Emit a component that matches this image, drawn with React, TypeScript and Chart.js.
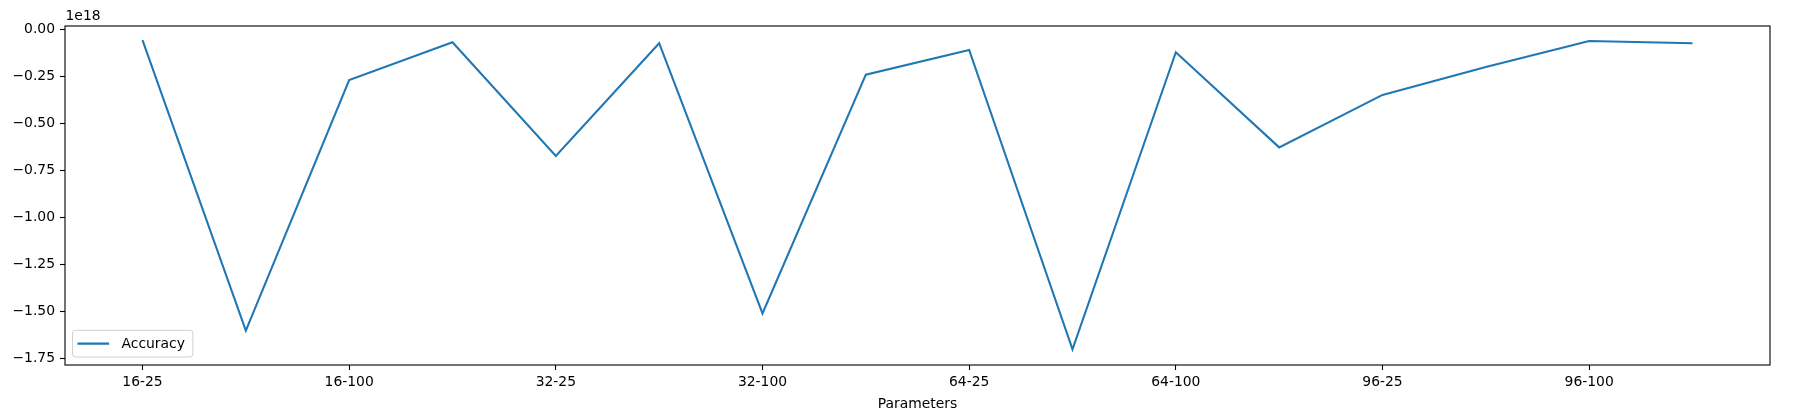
import React, { useEffect, useRef } from "react";
import { Chart, registerables } from "chart.js";

Chart.register(...registerables);

// Category labels (every other one is shown as a tick label)
const categories = [
  "16-25", "16-50", "16-100", "16-200",
  "32-25", "32-50", "32-100", "32-200",
  "64-25", "64-50", "64-100", "64-200",
  "96-25", "96-50", "96-100", "96-200",
];
// Accuracy values, in units of 1e18
const accuracy = [
  -0.058, -1.603, -0.27, -0.069,
  -0.674, -0.074, -1.511, -0.241,
  -0.11, -1.702, -0.122, -0.628,
  -0.349, -0.2, -0.062, -0.074,
];
const xTickIndices = [0, 2, 4, 6, 8, 10, 12, 14];
const yTicks = [0, -0.25, -0.5, -0.75, -1, -1.25, -1.5, -1.75];
const offsetLabel = "1e18";
const seriesLabel = "Accuracy";
const xTitle = "Parameters";

const FONT = '"DejaVu Sans", sans-serif';
const FS = 13.9;
const LINE_COLOR = "#1f77b4";

const fmtY = (v: number) => {
  const s = Math.abs(v).toFixed(2);
  return v < 0 ? "\u2212" + s : s;
};

const decorPlugin = {
  id: "decor",
  afterDatasetsDraw(chart: any) {
    const { ctx, chartArea: a } = chart;
    ctx.save();
    // axes frame
    ctx.strokeStyle = "#000";
    ctx.lineWidth = 1.1;
    ctx.strokeRect(a.left, a.top, a.right - a.left, a.bottom - a.top);

    // offset text
    ctx.fillStyle = "#000";
    ctx.font = `${FS}px ${FONT}`;
    ctx.textAlign = "left";
    ctx.textBaseline = "middle";
    ctx.fillText(offsetLabel, a.left + 0.5, a.top - 10);

    // legend (lower left)
    const label = chart.data.datasets[0].label as string;
    const tw = ctx.measureText(label).width;
    const bx = a.left + 7.5;
    const bh = 26.7;
    const by = a.bottom - 8 - bh;
    const lineX0 = bx + 5;
    const lineX1 = lineX0 + 31.6;
    const textX = lineX1 + 12.4;
    const bw = textX + tw + 8 - bx;
    const r = 3;
    ctx.beginPath();
    ctx.moveTo(bx + r, by);
    ctx.lineTo(bx + bw - r, by);
    ctx.arcTo(bx + bw, by, bx + bw, by + r, r);
    ctx.lineTo(bx + bw, by + bh - r);
    ctx.arcTo(bx + bw, by + bh, bx + bw - r, by + bh, r);
    ctx.lineTo(bx + r, by + bh);
    ctx.arcTo(bx, by + bh, bx, by + bh - r, r);
    ctx.lineTo(bx, by + r);
    ctx.arcTo(bx, by, bx + r, by, r);
    ctx.closePath();
    ctx.fillStyle = "rgba(255,255,255,0.8)";
    ctx.fill();
    ctx.strokeStyle = "#d0d0d0";
    ctx.lineWidth = 1;
    ctx.stroke();

    const cy = by + bh / 2;
    ctx.strokeStyle = LINE_COLOR;
    ctx.lineWidth = 2.08;
    ctx.beginPath();
    ctx.moveTo(lineX0, cy);
    ctx.lineTo(lineX1, cy);
    ctx.stroke();

    ctx.fillStyle = "#000";
    ctx.textBaseline = "middle";
    ctx.fillText(label, textX, cy + 1);
    ctx.restore();
  },
};

export default function App() {
  const ref = useRef<HTMLCanvasElement | null>(null);

  useEffect(() => {
    document.body.style.margin = "0";
    const canvas = ref.current;
    if (!canvas) return;
    const chart = new Chart(canvas, {
      type: "line",
      data: {
        datasets: [
          {
            label: seriesLabel,
            data: accuracy.map((v, i) => ({ x: i, y: v })),
            borderColor: LINE_COLOR,
            backgroundColor: LINE_COLOR,
            borderWidth: 2.08,
            pointRadius: 0,
            fill: false,
            tension: 0,
          },
        ],
      },
      options: {
        responsive: false,
        animation: false,
        layout: { padding: { top: 26, right: 28, left: 0, bottom: 0 } },
        plugins: {
          legend: { display: false },
          tooltip: { enabled: false },
        },
        scales: {
          x: {
            type: "linear",
            min: -0.75,
            max: 15.75,
            afterBuildTicks: (s: any) => {
              s.ticks = xTickIndices.map((v) => ({ value: v }));
            },
            afterFit: (s: any) => {
              s.height = 52;
            },
            grid: {
              drawOnChartArea: false,
              drawTicks: true,
              tickLength: 5,
              tickWidth: 1.1,
              tickColor: "#000",
            },
            border: { display: false },
            ticks: {
              autoSkip: false,
              maxRotation: 0,
              padding: 4,
              color: "#000",
              font: { family: FONT, size: FS },
              callback: (v: any) => categories[Math.round(Number(v))],
            },
            title: {
              display: true,
              text: xTitle,
              color: "#000",
              font: { family: FONT, size: FS },
              padding: { top: 0, bottom: 4 },
            },
          },
          y: {
            type: "linear",
            min: -1.7855,
            max: 0.0176,
            afterBuildTicks: (s: any) => {
              s.ticks = yTicks.map((v) => ({ value: v }));
            },
            afterFit: (s: any) => {
              s.width = 65;
            },
            grid: {
              drawOnChartArea: false,
              drawTicks: true,
              tickLength: 5,
              tickWidth: 1.1,
              tickColor: "#000",
            },
            border: { display: false },
            ticks: {
              autoSkip: false,
              padding: 5,
              color: "#000",
              font: { family: FONT, size: FS },
              callback: (v: any) => fmtY(Number(v)),
            },
          },
        },
      },
      plugins: [decorPlugin],
    } as any);
    return () => chart.destroy();
  }, []);

  return (
    <canvas
      ref={ref}
      width={1798}
      height={417}
      style={{ display: "block", width: 1798, height: 417 }}
    />
  );
}
